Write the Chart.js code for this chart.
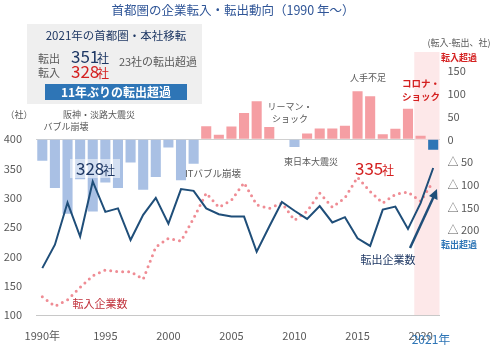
<!DOCTYPE html>
<html>
<head>
<meta charset="utf-8">
<script src="https://cdn.jsdelivr.net/npm/chart.js@4.4.1/dist/chart.umd.min.js"></script>
<style>
  body { margin: 0; background: #fff; }
</style>
</head>
<body>
<canvas id="moveChart" width="490" height="349"></canvas>
<script>
const FONT = "'Noto Sans CJK JP', 'Noto Sans', sans-serif"

// 年
const years = ['1990','1991','1992','1993','1994','1995','1996','1997','1998','1999',
    '2000','2001','2002','2003','2004','2005','2006','2007','2008','2009',
    '2010','2011','2012','2013','2014','2015','2016','2017','2018','2019','2020','2021']
const tickYears = ['1990', '1995', '2000', '2005', '2010', '2015', '2020']

// 転出企業数 (左軸)
const outCount = [180, 220, 292, 234, 328, 276, 282, 228, 271, 300,
    256, 315, 312, 282, 272, 268, 268, 208, 251, 293,
    278, 264, 286, 258, 267, 231, 218, 280, 285, 247, 291, 351]
// 転入企業数 (左軸)
const inCount = [131, 115, 126, 147, 167, 177, 174, 174, 161, 216,
    231, 226, 265, 308, 284, 296, 326, 288, 282, 291,
    262, 277, 308, 284, 300, 335, 311, 291, 306, 310, 294, 328]
// 転入-転出 (右軸)
const netCount = [-47, -107, -164, -88, -159, -95, -107, -51, -111, -83,
    -18, -90, -54, 29, 10, 28, 58, 84, 27, 0,
    -17, 13, 24, 24, 30, 106, 95, 11, 23, 67, 8, -23]

const leftTicks = [100, 150, 200, 250, 300, 350, 400]
const rightTicks = [-200, -150, -100, -50, 0, 50, 100, 150]

const barColors = netCount.map((v, i) => {
    if (i == netCount.length - 1) return '#2e75b6'
    return v < 0 ? '#a9c0e4' : '#f59ea3'
})

const shadePlugin = {
    id: 'shade',
    beforeDatasetsDraw(chart) {
        const {ctx, chartArea, scales} = chart
        const x0 = (scales.x.getPixelForValue(29) + scales.x.getPixelForValue(30)) / 2
        ctx.save()
        ctx.fillStyle = 'rgba(252, 222, 224, 0.7)'
        ctx.fillRect(x0, 52, chartArea.right - x0, chartArea.bottom - 52)
        ctx.restore()
    }
}

const text = (ctx, s, x, y, size, color, align = 'left', weight = 'normal') => {
    ctx.font = weight + ' ' + size + 'px ' + FONT
    ctx.fillStyle = color
    ctx.textAlign = align
    ctx.textBaseline = 'middle'
    ctx.fillText(s, x, y)
}

const notePlugin = {
    id: 'notes',
    afterDraw(chart) {
        const ctx = chart.ctx
        ctx.save()
        text(ctx, '首都圏の企業転入・転出動向（1990 年～）', 233, 10, 12.5, '#2f5597', 'center')

        // 左上の囲み
        ctx.fillStyle = '#efefef'
        ctx.fillRect(27, 24, 175, 80)
        text(ctx, '2021年の首都圏・本社移転', 116, 36, 11.5, '#1f3864', 'center')
        text(ctx, '転出', 38, 59, 11, '#595959')
        text(ctx, '転入', 38, 73, 11, '#595959')
        text(ctx, '351', 71, 57, 17, '#1f3864')
        text(ctx, '社', 97, 58, 12, '#1f3864')
        text(ctx, '328', 71, 72, 17, '#d42020')
        text(ctx, '社', 97, 73, 12, '#d42020')
        text(ctx, '23社の転出超過', 158, 62, 11, '#595959', 'center')
        ctx.fillStyle = '#2e75b6'
        ctx.fillRect(45, 84, 142, 16)
        text(ctx, '11年ぶりの転出超過', 116, 92, 12, '#ffffff', 'center', 'bold')

        // 軸見出し
        text(ctx, '（社）', 19, 115, 9, '#595959', 'center')
        text(ctx, '(転入-転出、社)', 459, 43, 9, '#595959', 'center')
        text(ctx, '転入超過', 459, 58, 9, '#d42020', 'center', 'bold')
        text(ctx, '転出超過', 459, 245, 9, '#2e75b6', 'center', 'bold')

        // 出来事
        text(ctx, '阪神・淡路大震災', 99, 115, 9, '#595959', 'center')
        text(ctx, 'バブル崩壊', 66, 127, 9, '#595959', 'center')
        text(ctx, 'ITバブル崩壊', 213, 173, 9.5, '#595959', 'center')
        text(ctx, 'リーマン・', 290, 107, 9, '#595959', 'center')
        text(ctx, 'ショック', 290, 119, 9, '#595959', 'center')
        text(ctx, '東日本大震災', 311, 162, 9, '#595959', 'center')
        text(ctx, '人手不足', 368, 78, 9, '#595959', 'center')
        text(ctx, 'コロナ・', 421, 83, 9.5, '#d42020', 'center', 'bold')
        text(ctx, 'ショック', 421, 96, 9.5, '#d42020', 'center', 'bold')

        // 値ラベル
        ctx.fillStyle = 'rgba(255, 255, 255, 0.5)'
        ctx.fillRect(70, 159, 50, 19)
        text(ctx, '328', 76, 169, 17, '#1f3864')
        text(ctx, '社', 103, 170, 12, '#1f3864')
        text(ctx, '335', 355, 169, 17, '#d42020')
        text(ctx, '社', 382, 170, 12, '#d42020')

        text(ctx, '転出企業数', 388, 260, 11, '#1f3864', 'center')
        text(ctx, '転入企業数', 100, 304, 11, '#c0303a', 'center')
        text(ctx, '2021年', 431, 339, 12, '#2e75b6', 'center')

        // 矢印
        ctx.strokeStyle = '#1f4e79'
        ctx.fillStyle = '#1f4e79'
        ctx.lineWidth = 2.5
        ctx.beginPath()
        ctx.moveTo(410, 248)
        ctx.lineTo(434, 196)
        ctx.stroke()
        ctx.beginPath()
        ctx.moveTo(437, 189)
        ctx.lineTo(437.5, 200)
        ctx.lineTo(429, 196)
        ctx.closePath()
        ctx.fill()
        ctx.restore()
    }
}

const data = {
    labels: years,
    datasets: [
        {
            type: 'line',
            data: outCount,
            yAxisID: 'yL',
            borderColor: '#1f4e79',
            borderWidth: 2,
            pointRadius: 0,
            tension: 0,
            order: 0
        },
        {
            type: 'line',
            data: inCount,
            yAxisID: 'yL',
            borderColor: '#ef8c94',
            borderWidth: 3,
            borderDash: [0, 6],
            borderCapStyle: 'round',
            pointRadius: 0,
            tension: 0,
            order: 1
        },
        {
            type: 'bar',
            data: netCount,
            yAxisID: 'yR',
            backgroundColor: barColors,
            barPercentage: 0.8,
            categoryPercentage: 1,
            order: 2
        }
    ]
}

const options = {
    responsive: false,
    animation: false,
    devicePixelRatio: 1,
    layout: { padding: { top: 40, left: 0, right: 0, bottom: 0 } },
    plugins: {
        legend: { display: false },
        tooltip: { enabled: false }
    },
    scales: {
        x: {
            grid: { display: false },
            border: { display: true, color: '#c8c8c8' },
            ticks: {
                autoSkip: false,
                maxRotation: 0,
                padding: 6,
                color: '#595959',
                font: { size: 11, family: FONT },
                callback: (v, i) => {
                    const y = years[i]
                    if (!tickYears.includes(y)) return ''
                    return y == '1990' ? y + '年' : y
                }
            },
            afterFit: (s) => { s.height = 34 }
        },
        yL: {
            position: 'left',
            min: 100,
            max: 569.5,
            grid: { display: false },
            border: { display: false },
            afterBuildTicks: (s) => { s.ticks = leftTicks.map(v => ({ value: v })) },
            ticks: {
                padding: 6,
                color: '#595959',
                font: { size: 11, family: FONT }
            },
            afterFit: (s) => { s.width = 36 }
        },
        yR: {
            position: 'right',
            min: -386.7,
            max: 218.6,
            border: { display: false },
            grid: {
                drawTicks: false,
                color: (c) => c.tick && c.tick.value == 0 ? '#d0d0d0' : 'rgba(0,0,0,0)'
            },
            afterBuildTicks: (s) => { s.ticks = rightTicks.map(v => ({ value: v })) },
            ticks: {
                padding: 8,
                color: '#595959',
                font: { size: 11, family: FONT },
                callback: (v) => v < 0 ? '△ ' + (-v) : String(v)
            },
            afterFit: (s) => { s.width = 50.5 }
        }
    }
}

Chart.defaults.font.family = FONT
new Chart('moveChart', { data, options, plugins: [shadePlugin, notePlugin] })
</script>
</body>
</html>
